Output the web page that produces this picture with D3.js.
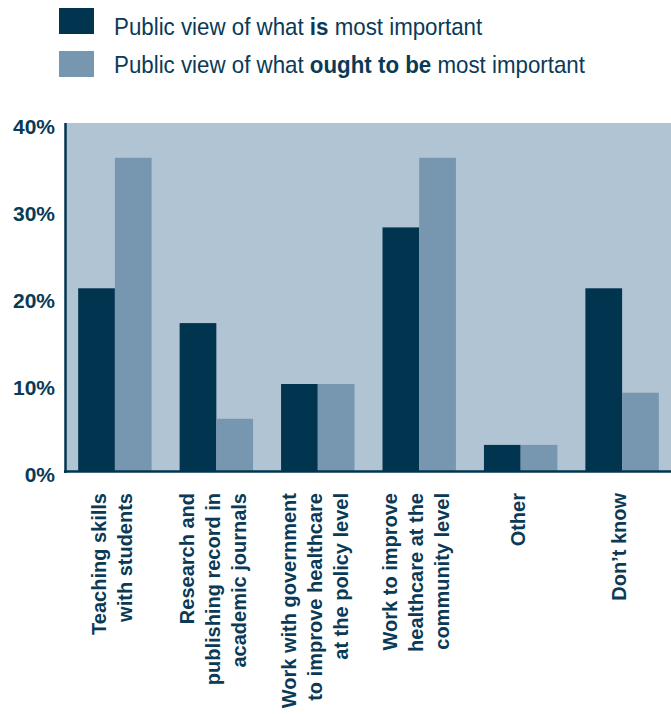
<!DOCTYPE html>
<html>
<head>
<meta charset="utf-8">
<script src="https://cdn.jsdelivr.net/npm/d3@7"></script>
<style>
  body { margin: 0; background: #fff; }
  svg { display: block; font-family: "Liberation Sans", Arial, sans-serif; }
</style>
</head>
<body>
<script>
// chart data
var categories = [
    ["Teaching skills", "with students"],
    ["Research and", "publishing record in", "academic journals"],
    ["Work with government", "to improve healthcare", "at the policy level"],
    ["Work to improve", "healthcare at the", "community level"],
    ["Other"],
    ["Don\u2019t know"]
];
var isValues = [21, 17, 10, 28, 3, 21];
var oughtValues = [36, 6, 10, 36, 3, 9];
var seriesKeys = ["is", "ought"];
var legendLabels = [
    ["Public view of what ", "is", " most important"],
    ["Public view of what ", "ought to be", " most important"]
];
var yTicks = [0, 10, 20, 30, 40];

var width = 671, height = 714;
var dark = "#00344f", mid = "#7797b1", bg = "#b1c4d4", ink = "#0a3a56";

var svg = d3.select("body").append("svg")
    .attr("width", width)
    .attr("height", height);

var x0 = d3.scaleBand()
    .domain(d3.range(categories.length))
    .range([66, 671])
    .paddingInner(0.276)
    .paddingOuter(0.12);

var x1 = d3.scaleBand()
    .domain(seriesKeys)
    .range([0, x0.bandwidth()]);

var y = d3.scaleLinear()
    .domain([0, 40])
    .range([471, 123]);

var color = d3.scaleOrdinal().domain(seriesKeys).range([dark, mid]);

// plot background
svg.append("rect")
    .attr("x", 66).attr("y", y(40))
    .attr("width", width - 66).attr("height", y(0) - y(40))
    .attr("fill", bg);

// bars
var rows = categories.map(function(c, i) {
    return { i: i, is: isValues[i], ought: oughtValues[i] };
});

var groups = svg.append("g").selectAll("g")
    .data(rows)
    .enter().append("g")
    .attr("transform", function(d) { return "translate(" + x0(d.i) + ",0)"; });

groups.selectAll("rect")
    .data(function(d) { return seriesKeys.map(function(k) { return { key: k, value: d[k] }; }); })
    .enter().append("rect")
    .attr("x", function(d) { return x1(d.key); })
    .attr("y", function(d) { return y(d.value); })
    .attr("width", x1.bandwidth())
    .attr("height", function(d) { return y(0) - y(d.value); })
    .attr("fill", function(d) { return color(d.key); });

// axis lines
svg.append("line")
    .attr("x1", 65.5).attr("x2", 65.5)
    .attr("y1", y(40)).attr("y2", y(0) + 2)
    .attr("stroke", dark).attr("stroke-width", 2.5);
svg.append("line")
    .attr("x1", 64).attr("x2", width)
    .attr("y1", y(0) + 0.5).attr("y2", y(0) + 0.5)
    .attr("stroke", dark).attr("stroke-width", 2.5);

// y axis labels
var yAxis = svg.append("g")
    .attr("transform", "translate(66,0)")
    .call(d3.axisLeft(y).tickValues(yTicks).tickSize(0).tickPadding(11)
        .tickFormat(function(d) { return d + "%"; }));
yAxis.select(".domain").remove();
yAxis.selectAll("text")
    .attr("dy", "0.52em")
    .attr("fill", ink)
    .style("font-family", "'Liberation Sans', Arial, sans-serif")
    .style("font-size", "21px")
    .style("font-weight", "bold");

// category labels, one rotated text per line
var lineGap = 26;
var labelLines = [];
categories.forEach(function(lines, i) {
    lines.forEach(function(line, j) {
        labelLines.push({ i: i, j: j, n: lines.length, text: line });
    });
});
svg.append("g").selectAll("text")
    .data(labelLines)
    .enter().append("text")
    .attr("transform", function(d) {
        var cx = x0(d.i) + x0.bandwidth() / 2 - 3;
        var bx = cx + (d.j - (d.n - 1) / 2) * lineGap + 7;
        return "translate(" + bx + ",493) rotate(-90)";
    })
    .attr("text-anchor", "end")
    .attr("fill", ink)
    .style("font-size", "20px")
    .style("font-weight", "bold")
    .text(function(d) { return d.text; });

// legend
var legendY = [8, 51];
var legendBase = [35, 73];
var legend = svg.append("g").selectAll("g")
    .data(seriesKeys)
    .enter().append("g");

legend.append("rect")
    .attr("x", 59)
    .attr("y", function(d, i) { return legendY[i]; })
    .attr("width", 35).attr("height", 26)
    .attr("fill", function(d) { return color(d); });

legend.append("text")
    .attr("transform", function(d, i) { return "translate(114," + legendBase[i] + ") scale(0.93,1)"; })
    .attr("fill", ink)
    .style("font-size", "24px")
    .each(function(d, i) {
        var t = d3.select(this);
        legendLabels[i].forEach(function(part, k) {
            t.append("tspan")
                .style("font-weight", k == 1 ? "bold" : "normal")
                .text(part);
        });
    });
</script>
</body>
</html>
